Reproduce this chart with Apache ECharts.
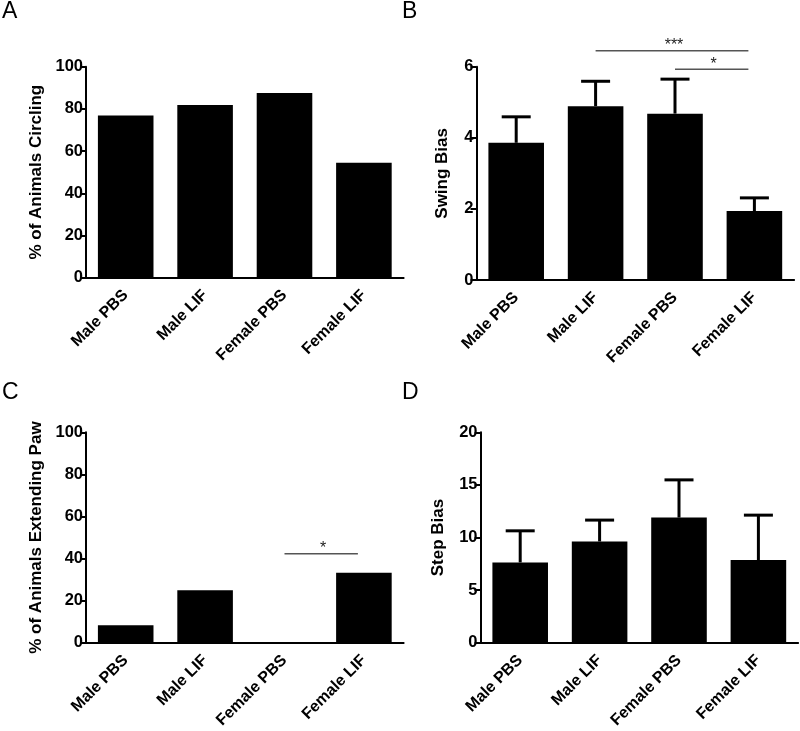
<!DOCTYPE html>
<html><head><meta charset="utf-8">
<script src="https://cdn.jsdelivr.net/npm/echarts@6/dist/echarts.min.js"></script>
<style>html,body{margin:0;padding:0;background:#fff}#c{width:800px;height:731px}</style>
</head><body><div id="c"></div>
<script>
const categories = ['Male PBS', 'Male LIF', 'Female PBS', 'Female LIF'];
const circlingPct = [76.9, 81.8, 87.5, 54.5];
const swingBiasMean = [3.86, 4.89, 4.68, 1.94];
const swingBiasSem = [0.73, 0.70, 0.97, 0.37];
const extendingPawPct = [8.3, 25.0, 0, 33.3];
const stepBiasMean = [7.64, 9.63, 11.9, 7.87];
const stepBiasSem = [3.0, 2.03, 3.58, 4.26];
// significance brackets: [fromCategoryIndex, toCategoryIndex, yValue]
const swingSig = [[1, 3, 6.45], [2, 3, 5.93]];
const swingSigLabels = ['***', '*'];
const pawSig = [[2, 3, 42.3]];
const pawSigLabels = ['*'];
const panelLetters = ['A', 'B', 'C', 'D'];
const yTitles = ['% of Animals Circling', 'Swing Bias', '% of Animals Extending Paw', 'Step Bias'];
const yMax = [100, 6, 100, 20];
const yInterval = [20, 2, 20, 5];

const FONT = '"Liberation Sans", Arial, sans-serif';
const grids = [
  {left: 86, top: 66.7, width: 317.6, height: 211},
  {left: 476.5, top: 66.7, width: 317.6, height: 213.3},
  {left: 86, top: 432.3, width: 317.6, height: 211},
  {left: 480.5, top: 432.3, width: 317.6, height: 211}
];
const nameGaps = [41, 26, 41, 34];
const letterPos = [[2, 0], [402, 0], [2, 381], [402, 381]];

const xAxes = grids.map((g, i) => ({
  type: 'category', gridIndex: i, data: categories,
  axisLine: {lineStyle: {color: '#000', width: 2}},
  axisTick: {alignWithLabel: true, length: 7, lineStyle: {color: '#000', width: 2}},
  axisLabel: {rotate: 45, color: '#000', fontWeight: 'bold', fontSize: 16, fontFamily: FONT, margin: 15, interval: 0}
}));
const yAxes = grids.map((g, i) => ({
  type: 'value', gridIndex: i, min: 0, max: yMax[i], interval: yInterval[i],
  name: yTitles[i], nameLocation: 'middle', nameGap: nameGaps[i],
  nameTextStyle: {color: '#000', fontWeight: 'bold', fontSize: 17, fontFamily: FONT},
  splitLine: {show: false},
  axisLine: {show: true, lineStyle: {color: '#000', width: 2}},
  axisTick: {show: true, length: 6, lineStyle: {color: '#000', width: 2}},
  axisLabel: {color: '#000', fontWeight: 'bold', fontSize: 16.5, fontFamily: FONT, margin: 3}
}));

function barSeries(i, data) {
  return {type: 'bar', xAxisIndex: i, yAxisIndex: i, data: data, barWidth: '70%',
    itemStyle: {color: '#000'}, silent: true, animation: false};
}
function errSeries(i, mean, sem) {
  return {type: 'custom', xAxisIndex: i, yAxisIndex: i, animation: false, silent: true, z: 5,
    data: mean.map((m, k) => [k, m, m + sem[k]]), encode: {x: 0, y: [1, 2]},
    renderItem: function (params, api) {
      const p0 = api.coord([api.value(0), api.value(1)]);
      const p1 = api.coord([api.value(0), api.value(2)]);
      const half = 14.5;
      return {type: 'group', children: [
        {type: 'line', shape: {x1: p0[0], y1: p0[1], x2: p1[0], y2: p1[1]}, style: {stroke: '#000', lineWidth: 3}},
        {type: 'line', shape: {x1: p1[0] - half, y1: p1[1], x2: p1[0] + half, y2: p1[1]}, style: {stroke: '#000', lineWidth: 3}}
      ]};
    }};
}
function sigSeries(i, sig, labels) {
  return {type: 'custom', xAxisIndex: i, yAxisIndex: i, animation: false, silent: true, clip: false, z: 6,
    data: sig, encode: {x: 0, y: 2},
    renderItem: function (params, api) {
      const a = api.coord([api.value(0), api.value(2)]);
      const b = api.coord([api.value(1), api.value(2)]);
      const x1 = a[0], x2 = b[0] - 6, y = a[1];
      return {type: 'group', children: [
        {type: 'line', shape: {x1: x1, y1: y, x2: x2, y2: y}, style: {stroke: '#555', lineWidth: 1.6}},
        {type: 'text', x: (x1 + x2) / 2 + 2, y: y - 5, style: {text: labels[params.dataIndex], fill: '#222', font: '16px ' + FONT, align: 'center', verticalAlign: 'middle'}}
      ]};
    }};
}

const chart = echarts.init(document.getElementById('c'), null, {renderer: 'canvas'});
chart.setOption({
  backgroundColor: '#fff',
  animation: false,
  title: panelLetters.map((t, i) => ({text: t, left: letterPos[i][0], top: letterPos[i][1], padding: 0,
    textStyle: {fontSize: 23, fontWeight: 'normal', color: '#000', fontFamily: FONT}})),
  grid: grids,
  xAxis: xAxes,
  yAxis: yAxes,
  series: [
    barSeries(0, circlingPct),
    barSeries(1, swingBiasMean),
    errSeries(1, swingBiasMean, swingBiasSem),
    sigSeries(1, swingSig, swingSigLabels),
    barSeries(2, extendingPawPct),
    sigSeries(2, pawSig, pawSigLabels),
    barSeries(3, stepBiasMean),
    errSeries(3, stepBiasMean, stepBiasSem)
  ]
});
</script></body></html>
